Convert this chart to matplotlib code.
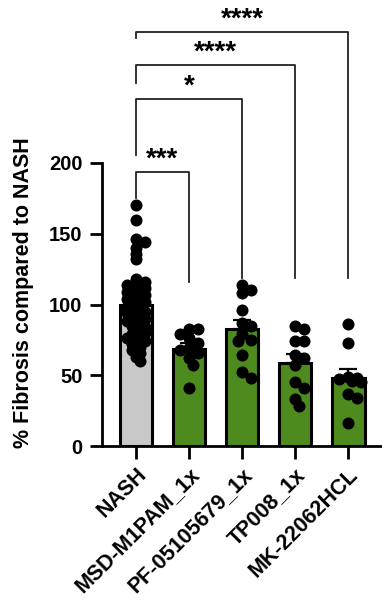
import numpy as np
import matplotlib.pyplot as plt

plt.rcParams['font.family'] = ['Liberation Sans', 'DejaVu Sans']
plt.rcParams['font.weight'] = 'bold'

groups = ['NASH', 'MSD-M1PAM_1x', 'PF-05105679_1x', 'TP008_1x', 'MK-22062HCL']
colors = ['#c8c8c8', '#4e8b1f', '#4e8b1f', '#4e8b1f', '#4e8b1f']

nash = [170, 160, 146, 144, 140, 136, 132, 118, 116, 114, 111, 109, 107, 93,
        103, 114, 112, 110, 108, 106, 105, 104, 102, 100, 99, 98, 96, 95, 94,
        92, 90, 89, 88, 86, 85, 84, 82, 80, 79, 78, 76, 75, 74, 72, 70, 68,
        66, 63, 60]
msd = [83, 83, 79, 76, 73, 69, 68, 66, 62, 57, 41]
pf = [114, 110, 108, 96, 87, 85, 79, 75, 74, 64, 52, 48]
tp = [85, 83, 74, 74, 64, 62, 57, 45, 41, 33, 28]
mk = [86, 73, 49, 48, 47, 46, 45, 37, 34, 16]
values = [nash, msd, pf, tp, mk]

# significance brackets: (group a, group b, bar height, left leg end, right leg end, label)
brackets = [
    (0, 1, 193.6, 175, 116, '***'),
    (0, 2, 245, 205.6, 119, '*'),
    (0, 3, 269, 256.5, 119, '****'),
    (0, 4, 292.6, 288, 119, '****'),
]

fig = plt.figure(figsize=(3.82, 6.02), dpi=100)
ax = fig.add_axes([102 / 382, 156 / 602, 280 / 382, 446 / 602])
ax.set_xlim(-0.64, 4.64)
ax.set_ylim(0, 446 / 1.415)

px_x = 53.0   # pixels per x unit
px_y = 1.415  # pixels per y unit


def swarm(vals, d=11, maxw=14, overlap=0.7):
    # simple beeswarm placement in pixel space, overlap allowed
    placed = []
    offs = np.zeros(len(vals))
    order = np.argsort(vals)[::-1]
    cands = [0]
    for k in range(1, 10):
        cands += [k * d * 0.4, -k * d * 0.4]
    for i in order:
        y = vals[i] * px_y
        best, bestdist = 0, -1
        for c in cands:
            if abs(c) > maxw:
                continue
            md = min([np.hypot(c - px, y - py) for px, py in placed] + [99])
            if md >= d * overlap:
                best = c
                break
            if md > bestdist:
                best, bestdist = c, md
        offs[i] = best
        placed.append((best, y))
    return offs / px_x


for i, (g, v) in enumerate(zip(groups, values)):
    v = np.array(v, dtype=float)
    m = v.mean()
    sem = v.std(ddof=1) / np.sqrt(len(v))
    ax.bar(i, m, width=0.62, color=colors[i], edgecolor='black', linewidth=2.2, zorder=2)
    ax.errorbar(i, m, yerr=[[0], [sem]], color='black', capsize=6.5, capthick=1.6,
                elinewidth=1.6, zorder=3)
    if i == 0:
        offs = swarm(v, maxw=12, overlap=0.5)
    else:
        offs = swarm(v)
    ax.scatter(i + offs, v, s=75, color='black', zorder=4, linewidths=0)

for a, b, h, la, lb, lab in brackets:
    ax.plot([a, a, b, b], [la, h, h, lb], color='#222222', lw=1.3, zorder=1,
            clip_on=False)
    ax.text((a + b) / 2, h + 9, lab, ha='center', va='center', fontsize=20,
            fontweight='bold')

for s in ['top', 'right']:
    ax.spines[s].set_visible(False)
ax.spines['left'].set_bounds(0, 200)
ax.spines['left'].set_linewidth(2.0)
ax.spines['bottom'].set_linewidth(2.0)
ax.set_yticks([0, 50, 100, 150, 200])
ax.set_xticks(range(len(groups)))
ax.set_xticklabels(groups, rotation=45, ha='right', rotation_mode='anchor',
                   fontsize=15.5, fontweight='bold')
ax.tick_params(axis='both', width=2.0, length=9)
ax.tick_params(axis='y', labelsize=14.5, pad=5)
ax.tick_params(axis='x', pad=4)
for t in ax.get_yticklabels():
    t.set_fontweight('bold')
fig.text(24 / 382, (602 - 293) / 602, '% Fibrosis compared to NASH', rotation=90,
         ha='center', va='center', fontsize=15.5, fontweight='bold')

fig.savefig('out.png', dpi=100)
